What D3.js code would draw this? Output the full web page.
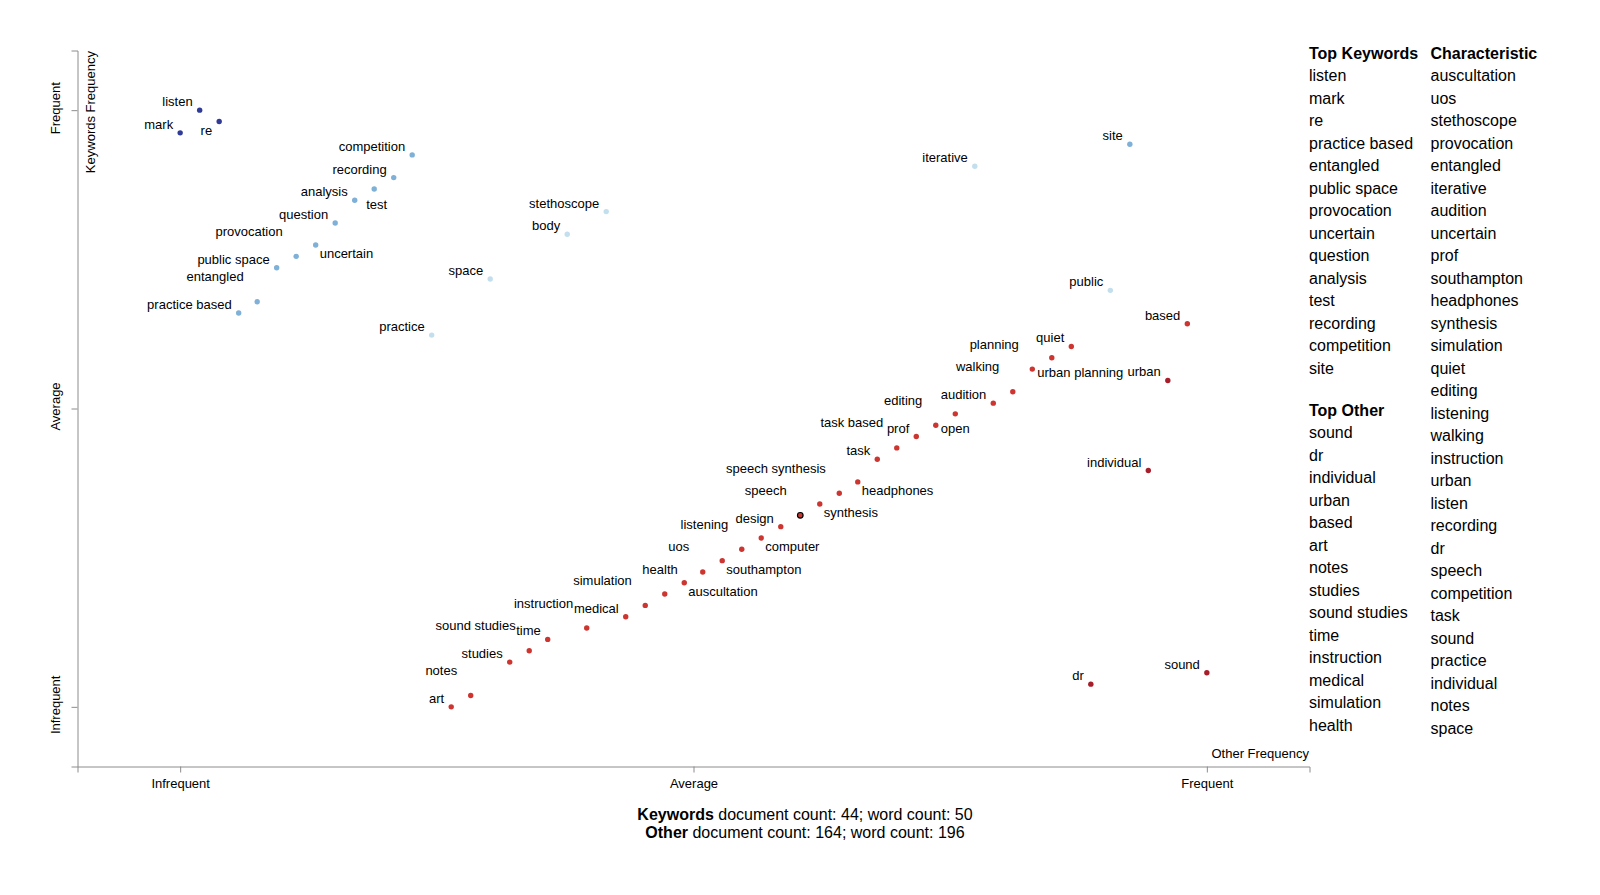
<!DOCTYPE html>
<html>
<head>
<meta charset="utf-8">
<script src="https://cdn.jsdelivr.net/npm/d3@7"></script>
<style>
  body { margin: 0; background: #fff; }
  text { font-family: "Liberation Sans", Arial, Helvetica, sans-serif; }
</style>
</head>
<body>
<svg id="chart" width="1600" height="895"></svg>
<script>
// ---------------- data ----------------
const terms = ["listen","re","mark","competition","recording","test","analysis","question","uncertain","provocation",
  "public space","entangled","practice based","space","practice","stethoscope","body","site","iterative","public",
  "based","quiet","planning","urban planning","urban","walking","audition","editing","open","prof",
  "task based","task","individual","headphones","speech synthesis","synthesis","speech","design","computer","listening",
  "southampton","uos","auscultation","health","simulation","medical","instruction","time","sound studies","studies",
  "notes","art","dr","sound"];

// scaled "Other" frequency (x) and "Keywords" frequency (y), 0..1
const otherFreq = [0.019,0.038,0,0.226,0.208,0.189,0.170,0.151,0.132,0.113,
  0.094,0.075,0.057,0.302,0.245,0.415,0.377,0.925,0.774,0.906,
  0.981,0.868,0.849,0.830,0.962,0.811,0.792,0.755,0.736,0.717,
  0.698,0.679,0.943,0.660,0.642,0.623,0.604,0.585,0.566,0.547,
  0.528,0.509,0.491,0.472,0.453,0.434,0.396,0.358,0.340,0.321,
  0.283,0.264,0.887,1.0];
const keywordFreq = [1.0,0.981,0.962,0.925,0.887,0.868,0.849,0.811,0.774,0.755,
  0.736,0.679,0.660,0.717,0.623,0.830,0.792,0.943,0.906,0.698,
  0.642,0.604,0.585,0.566,0.547,0.528,0.509,0.491,0.472,0.453,
  0.434,0.415,0.396,0.377,0.358,0.340,0.321,0.302,0.283,0.264,
  0.245,0.226,0.208,0.189,0.170,0.151,0.132,0.113,0.094,0.075,
  0.019,0,0.038,0.057];

// association class: k3 strong keyword ... o2 strong other
const termClass = ["k3","k3","k3","k2","k2","k2","k2","k2","k2","k2",
  "k2","k2","k2","k1","k1","k1","k1","k2","k1","k1",
  "o1","o1","o1","o1","o2","o1","o1","o1","o1","o1",
  "o1","o1","o2","o1","o1","o1","o1","o1","o1","o1",
  "o1","o1","o1","o1","o1","o1","o1","o1","o1","o1",
  "o1","o1","o2","o2"];

// label placement code for each term
const labelSpot = ["L","LB","L","L","L","BS","L","L","RB","AL",
  "L","AL","L","L","L","L","L","L","L","L",
  "L","L","FL","RB2","L","AL","L","FL","RB2","L",
  "AL","L","L","RB","AL","RB","AL","L","RB","AL",
  "RB","AL","RB","AR","AL","L","AL","L","AL","L",
  "AL","L","L","L"];

const highlightedTerm = "speech";

const xTickLabels = ["Infrequent","Average","Frequent"];
const yTickLabels = ["Infrequent","Average","Frequent"];
const tickValues = [0, 0.5, 1];

const topKeywords = ["listen","mark","re","practice based","entangled","public space","provocation","uncertain",
  "question","analysis","test","recording","competition","site"];
const topOther = ["sound","dr","individual","urban","based","art","notes","studies","sound studies","time",
  "instruction","medical","simulation","health"];
const characteristic = ["auscultation","uos","stethoscope","provocation","entangled","iterative","audition",
  "uncertain","prof","southampton","headphones","synthesis","simulation","quiet","editing","listening",
  "walking","instruction","urban","listen","recording","dr","speech","competition","task","sound",
  "practice","individual","notes","space"];

const keywordsStats = {docs: 44, words: 50};
const otherStats = {docs: 164, words: 196};

// ---------------- drawing ----------------
const svg = d3.select("#chart");

const x = d3.scaleLinear().domain([-0.1, 1.1]).range([77.5, 1309.5]);
const y = d3.scaleLinear().domain([-0.1, 1.1]).range([766.5, 50.5]);

const color = d3.scaleOrdinal()
  .domain(["k3","k2","k1","o1","o2"])
  .range(["#2f3b97","#7fb0d7","#c3dfee","#cd3530","#a81d2a"]);

const placements = {
  L:   {anchor: "end",   dx: -7,    dy: -4},
  AL:  {anchor: "end",   dx: -13.5, dy: -20.5},
  AR:  {anchor: "end",   dx: 13,    dy: -20},
  LB:  {anchor: "end",   dx: -7,    dy: 13},
  RB:  {anchor: "start", dx: 4,     dy: 13},
  RB2: {anchor: "start", dx: 5,     dy: 8},
  BS:  {anchor: "start", dx: -8,    dy: 20},
  FL:  {anchor: "end",   dx: -33,   dy: -8.5}
};

const data = terms.map((t, i) => ({
  term: t, ox: otherFreq[i], ky: keywordFreq[i], cls: termClass[i], spot: labelSpot[i]
}));

// axes
const axisColor = "#8c8c8c";
const gx = svg.append("g").attr("transform", "translate(0,766.5)")
  .call(d3.axisBottom(x).tickValues(tickValues).tickFormat((d, i) => xTickLabels[i]).tickSize(6).tickSizeOuter(6).tickPadding(6));
gx.selectAll("path,line").attr("stroke", axisColor);
gx.selectAll("text").attr("font-size", 13).attr("fill", "#000")
  .style("font-family", '"Liberation Sans", Arial, sans-serif');

const gy = svg.append("g").attr("transform", "translate(77.5,0)")
  .call(d3.axisLeft(y).tickValues(tickValues).tickFormat("").tickSize(6).tickSizeOuter(6));
gy.selectAll("path,line").attr("stroke", axisColor);

svg.append("g").selectAll("text").data(tickValues).join("text")
  .attr("transform", (d) => `translate(60,${y(d) - 2})  rotate(-90)`)
  .attr("text-anchor", "middle")
  .attr("font-size", 13)
  .text((d, i) => yTickLabels[i]);

svg.append("text")
  .attr("transform", "translate(94.5,51) rotate(-90)")
  .attr("text-anchor", "end")
  .attr("font-size", 13)
  .text("Keywords Frequency");

svg.append("text")
  .attr("x", 1309).attr("y", 757.5)
  .attr("text-anchor", "end")
  .attr("font-size", 13)
  .text("Other Frequency");

// points
svg.append("g").selectAll("circle").data(data).join("circle")
  .attr("cx", d => x(d.ox))
  .attr("cy", d => y(d.ky))
  .attr("r", d => d.term === highlightedTerm ? 2.8 : 2.7)
  .attr("fill", d => color(d.cls))
  .attr("stroke", d => d.term === highlightedTerm ? "#000" : "none")
  .attr("stroke-width", 1.2);

// labels
svg.append("g").selectAll("text").data(data).join("text")
  .attr("x", d => x(d.ox) + placements[d.spot].dx)
  .attr("y", d => y(d.ky) + placements[d.spot].dy)
  .attr("text-anchor", d => placements[d.spot].anchor)
  .attr("font-size", 13)
  .attr("fill", "#000")
  .text(d => d.term);

// bottom counts
const counts = svg.append("g").attr("font-size", 16);
const l1 = counts.append("text").attr("x", 805).attr("y", 819.5).attr("text-anchor", "middle");
l1.append("tspan").attr("font-weight", "bold").text("Keywords");
l1.append("tspan").text(` document count: ${keywordsStats.docs}; word count: ${keywordsStats.words}`);
const l2 = counts.append("text").attr("x", 805).attr("y", 838).attr("text-anchor", "middle");
l2.append("tspan").attr("font-weight", "bold").text("Other");
l2.append("tspan").text(` document count: ${otherStats.docs}; word count: ${otherStats.words}`);

// side lists
const rowH = 22.5;
const lists = svg.append("g").attr("font-size", 16);
function drawList(x0, y0, title, items) {
  lists.append("text").attr("x", x0).attr("y", y0).attr("font-weight", "bold").text(title);
  lists.append("g").selectAll("text").data(items).join("text")
    .attr("x", x0).attr("y", (d, i) => y0 + rowH * (i + 1)).text(d => d);
}
drawList(1309, 58.5, "Top Keywords", topKeywords);
drawList(1309, 415.5, "Top Other", topOther);
drawList(1430.5, 58.5, "Characteristic", characteristic);
</script>
</body>
</html>
